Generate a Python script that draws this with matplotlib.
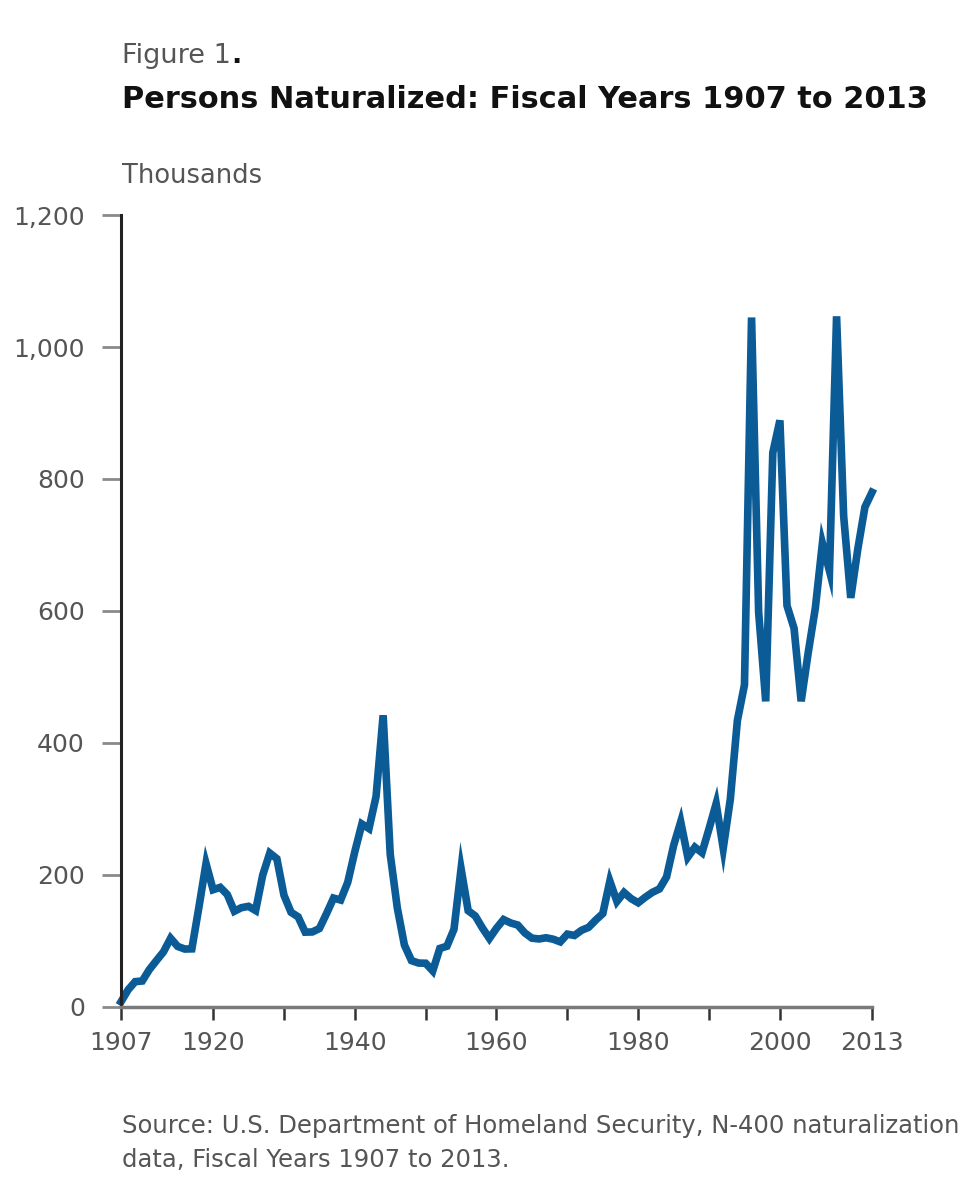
import matplotlib.pyplot as plt
import matplotlib
from matplotlib.ticker import FuncFormatter, FixedLocator

matplotlib.rcParams["font.family"] = ["DejaVu Sans"]

# persons naturalized, thousands (1976 includes transition quarter)
years = list(range(1907, 2014))
naturalized = [
    7.9, 26.0, 38.4, 39.4, 56.7, 70.3, 83.6, 104.1, 91.8, 87.8,
    88.1, 151.4, 217.4, 177.7, 181.3, 170.4, 145.1, 150.5, 152.5, 146.2,
    199.8, 233.2, 224.7, 169.4, 143.5, 136.6, 113.4, 113.7, 118.9, 141.3,
    165.0, 162.1, 188.8, 235.3, 277.3, 270.4, 318.9, 442.0, 231.4, 150.1,
    93.9, 70.3, 66.6, 66.3, 54.7, 88.7, 92.1, 117.8, 209.5, 145.9,
    138.0, 119.9, 103.9, 119.4, 132.5, 127.3, 124.2, 112.2, 104.3, 103.1,
    104.9, 102.7, 98.7, 110.4, 108.4, 116.2, 120.7, 131.7, 141.5, 190.7,
    159.9, 173.5, 164.2, 157.9, 166.3, 173.7, 178.9, 197.0, 244.7, 280.6,
    227.0, 242.1, 233.8, 270.1, 308.1, 240.3, 314.7, 434.1, 488.1, 1044.7,
    598.2, 463.1, 839.9, 888.8, 608.2, 573.7, 463.2, 537.2, 604.3, 702.6,
    660.5, 1046.5, 743.7, 619.9, 694.2, 757.4, 779.9,
]
yticks = [0, 200, 400, 600, 800, 1000, 1200]
xticks_major = [1907, 1920, 1940, 1960, 1980, 2000, 2013]
xticks_minor = [1930, 1950, 1970, 1990]

fig = plt.figure(figsize=(9.8, 12), dpi=100)
ax = fig.add_axes([121 / 980, 1 - 1007 / 1200, 751 / 980, 792 / 1200])

ax.plot(years, naturalized, color="#0b5b96", linewidth=5.5, solid_joinstyle="miter",
        clip_on=False)

ax.set_xlim(1907, 2013)
ax.set_ylim(0, 1200)

ax.spines["top"].set_visible(False)
ax.spines["right"].set_visible(False)
ax.spines["left"].set_color("#222222")
ax.spines["left"].set_linewidth(2.2)
ax.spines["bottom"].set_color("#7a7a7a")
ax.spines["bottom"].set_linewidth(2.5)

ax.set_yticks(yticks)
ax.yaxis.set_major_formatter(FuncFormatter(lambda v, p: f"{int(v):,}"))
ax.tick_params(axis="y", length=14, width=2, color="#8a8a8a", pad=12,
               labelsize=18, labelcolor="#555555")

ax.xaxis.set_major_locator(FixedLocator(xticks_major))
ax.xaxis.set_minor_locator(FixedLocator(xticks_minor))
ax.set_xticklabels([str(y) for y in xticks_major])
ax.tick_params(axis="x", which="both", length=9, width=1.8, color="#333333",
               pad=8, labelsize=18, labelcolor="#555555")

fig_lbl = fig.text(122 / 980, 1 - 63 / 1200, "Figure 1", fontsize=19.5, color="#555555",
                   va="baseline")
fig.canvas.draw()
bb = fig_lbl.get_window_extent().transformed(fig.transFigure.inverted())
fig.text(bb.x1, 1 - 63 / 1200, ".", fontsize=19.5, fontweight="bold", color="#111111",
         va="baseline")
fig.text(122 / 980, 1 - 108 / 1200, "Persons Naturalized: Fiscal Years 1907 to 2013",
         fontsize=21.9, fontweight="bold", color="#111111", va="baseline")
fig.text(122 / 980, 1 - 183 / 1200, "Thousands", fontsize=18.5, color="#555555",
         va="baseline")
fig.text(122 / 980, 1 - 1133 / 1200,
         "Source: U.S. Department of Homeland Security, N-400 naturalization",
         fontsize=17.5, color="#555555", va="baseline")
fig.text(122 / 980, 1 - 1167 / 1200, "data, Fiscal Years 1907 to 2013.",
         fontsize=17.5, color="#555555", va="baseline")

fig.savefig("out.png", dpi=100)
